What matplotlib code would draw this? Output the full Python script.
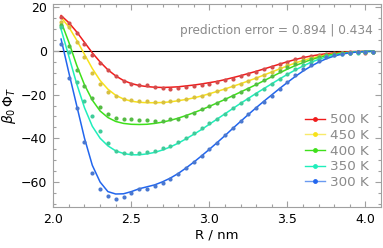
import numpy as np
import matplotlib.pyplot as plt
from matplotlib.lines import Line2D
from matplotlib.ticker import MultipleLocator

# Dane
R = [2.05, 2.10, 2.15, 2.20, 2.25, 2.30, 2.35, 2.40, 2.45, 2.50,
     2.55, 2.60, 2.65, 2.70, 2.75, 2.80, 2.85, 2.90, 2.95, 3.00,
     3.05, 3.10, 3.15, 3.20, 3.25, 3.30, 3.35, 3.40, 3.45, 3.50,
     3.55, 3.60, 3.65, 3.70, 3.75, 3.80, 3.85, 3.90, 3.95, 4.00, 4.05]

labels = ['500 K', '450 K', '400 K', '350 K', '300 K']

# simulation points
pts_500 = [15.5, 12.7, 8.4, 3.4, -1.8, -5.4, -8.9, -11.6, -13.6, -14.9,
           -15.5, -15.8, -16.3, -16.9, -17.2, -16.9, -16.4, -16.1, -15.6, -15.0,
           -14.3, -13.5, -12.6, -11.5, -10.6, -9.5, -8.4, -7.2, -6.0, -4.9,
           -3.8, -2.9, -2.3, -1.7, -1.2, -0.9, -0.8, -0.6, -0.5, -0.7, -0.5]
pts_450 = [13.5, 11.2, 4.1, -2.9, -10.1, -15.3, -18.7, -20.7, -21.9, -22.5,
           -22.8, -23.0, -23.2, -23.3, -23.0, -22.5, -22.1, -21.3, -20.5, -19.5,
           -18.4, -17.3, -16.2, -14.9, -13.8, -12.4, -11.0, -9.4, -8.0, -6.4,
           -5.1, -3.9, -3.0, -2.2, -1.6, -1.2, -0.9, -0.7, -0.5, -0.5, -0.3]
pts_400 = [12.0, 2.3, -8.7, -16.1, -21.7, -25.7, -29.0, -30.9, -31.4, -31.4,
           -31.6, -31.7, -32.0, -32.0, -31.4, -31.0, -29.6, -28.4, -26.8, -25.3,
           -23.8, -22.1, -20.4, -18.7, -17.2, -15.2, -13.5, -11.4, -9.3, -7.5,
           -6.1, -4.6, -3.5, -2.6, -1.8, -1.2, -0.9, -0.7, -0.5, -0.5, -0.3]
pts_350 = [11.0, -0.3, -14.1, -22.8, -29.9, -36.6, -42.1, -46.0, -47.0, -47.0,
           -47.0, -46.4, -45.8, -44.7, -43.5, -41.7, -39.8, -37.8, -35.5, -33.2,
           -31.1, -28.7, -26.3, -24.0, -21.9, -19.5, -17.4, -15.2, -12.9, -10.6,
           -8.4, -6.4, -4.9, -3.5, -2.4, -1.7, -1.2, -0.9, -0.7, -0.6, -0.4]
pts_300 = [3.3, -12.3, -26.3, -41.7, -55.8, -63.1, -66.3, -67.7, -67.0, -65.2,
           -63.4, -63.1, -62.1, -60.6, -58.5, -56.2, -53.6, -50.9, -48.1, -45.1,
           -42.0, -38.6, -35.2, -32.2, -29.0, -25.9, -23.4, -20.5, -17.3, -14.1,
           -11.2, -8.4, -6.3, -4.5, -2.9, -1.8, -1.2, -0.7, -0.5, -0.5, -0.3]

# model curves
fit_500 = [16.3, 13.0, 8.8, 4.0, -0.8, -5.0, -8.6, -11.4, -13.5, -14.9,
           -15.8, -16.3, -16.6, -16.7, -16.6, -16.4, -16.0, -15.6, -15.1, -14.5,
           -13.9, -13.1, -12.2, -11.3, -10.3, -9.3, -8.2, -7.1, -6.0, -4.9,
           -3.9, -3.0, -2.3, -1.7, -1.2, -0.8, -0.5, -0.3, -0.2, -0.1, 0.0]
fit_450 = [15.5, 11.0, 5.0, -1.5, -8.0, -13.5, -17.5, -20.3, -22.0, -23.0,
           -23.5, -23.7, -23.7, -23.6, -23.3, -22.8, -22.2, -21.5, -20.6, -19.6,
           -18.5, -17.4, -16.2, -15.0, -13.7, -12.4, -11.0, -9.6, -8.2, -6.8,
           -5.5, -4.3, -3.3, -2.5, -1.8, -1.3, -0.9, -0.6, -0.4, -0.2, -0.1]
fit_400 = [13.5, 4.0, -6.5, -15.5, -22.5, -27.5, -30.5, -32.3, -33.2, -33.6,
           -33.7, -33.6, -33.2, -32.6, -31.8, -30.8, -29.6, -28.3, -26.9, -25.4,
           -23.8, -22.2, -20.5, -18.8, -17.1, -15.4, -13.6, -11.8, -10.0, -8.3,
           -6.7, -5.3, -4.0, -2.9, -2.1, -1.4, -0.9, -0.6, -0.3, -0.2, -0.1]
fit_350 = [10.0, -2.5, -15.0, -26.0, -34.5, -40.0, -43.5, -45.8, -47.0, -47.6,
           -47.6, -47.2, -46.5, -45.4, -44.0, -42.3, -40.3, -38.2, -36.0, -33.6,
           -31.2, -28.8, -26.4, -24.0, -21.7, -19.4, -17.2, -15.0, -12.8, -10.7,
           -8.7, -6.9, -5.2, -3.8, -2.7, -1.8, -1.2, -0.7, -0.4, -0.2, -0.1]
fit_300 = [5.5, -10.0, -25.0, -40.0, -52.4, -60.1, -64.5, -65.6, -65.5, -64.5,
           -63.2, -62.3, -61.4, -60.0, -58.3, -56.2, -53.7, -51.0, -48.1, -45.1,
           -42.0, -38.8, -35.5, -32.3, -29.1, -26.0, -23.0, -20.1, -17.2, -14.4,
           -11.7, -9.2, -7.0, -5.1, -3.5, -2.3, -1.4, -0.8, -0.4, -0.2, -0.1]

pts = [pts_500, pts_450, pts_400, pts_350, pts_300]
fits = [fit_500, fit_450, fit_400, fit_350, fit_300]

line_col = ['#f01c1c', '#f7e21a', '#3ee01a', '#20eebb', '#2266ee']
dot_col = ['#d44c4c', '#d8c040', '#55bb44', '#3fcc9a', '#4a78d0']
leg_line = ['#f01c1c', '#f8ea6a', '#3ee01a', '#20eebb', '#6a9af0']

fig = plt.figure(figsize=(3.83, 2.48), dpi=100)
ax = fig.add_axes([52.5 / 383, 1 - 207.3 / 248, (381 - 52.5) / 383, (207.3 - 4) / 248])

ax.axhline(0, color='k', lw=0.8, zorder=1)
for y_fit, y_pts, lc, dc in zip(fits, pts, line_col, dot_col):
    ax.plot(R, y_fit, color=lc, lw=1.1, zorder=2)
    ax.plot(R, y_pts, 'o', ms=3.0, color=dc, mec='none', zorder=3)

ax.set_xlim(1.995, 4.10)
ax.set_ylim(-71.7, 21.6)
ax.xaxis.set_major_locator(MultipleLocator(0.5))
ax.xaxis.set_minor_locator(MultipleLocator(0.1))
ax.yaxis.set_major_locator(MultipleLocator(20))
ax.yaxis.set_minor_locator(MultipleLocator(5))
ax.tick_params(which='both', direction='in', top=True, right=True,
               color='#a0a0a0', width=0.8, labelsize=9)
ax.tick_params(which='major', length=4, pad=4)
ax.tick_params(which='minor', length=2)
for s in ax.spines.values():
    s.set_color('#a0a0a0')
    s.set_linewidth(0.8)

ax.set_xlabel('R / nm', fontsize=9.5, labelpad=2)
ax.set_ylabel(r'$\beta_0\,\Phi_T$', fontsize=10)
ax.yaxis.set_label_coords(-0.105, 0.5)

ax.text(0.976, 0.872, 'prediction error = 0.894 | 0.434', transform=ax.transAxes,
        ha='right', va='center', fontsize=8.7, color='#8a8a8a')

handles = [Line2D([], [], color=c, marker='o', ms=3.5, mfc=m, mec='none', lw=1.0)
           for c, m in zip(leg_line, line_col)]
ax.legend(handles, labels, loc='lower right', bbox_to_anchor=(0.962, 0.09),
          frameon=False, fontsize=9.7, labelcolor='#8a8a8a', handlelength=1.5,
          handletextpad=0.35, labelspacing=0.2, borderpad=0, borderaxespad=0)

plt.savefig('out.png', dpi=100)
